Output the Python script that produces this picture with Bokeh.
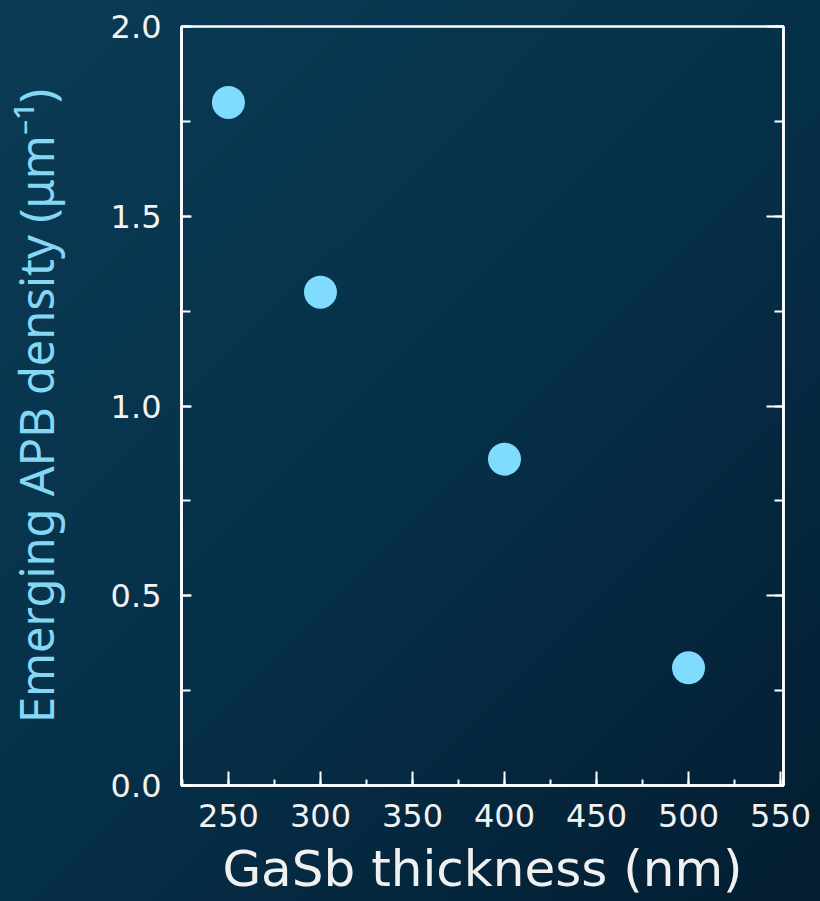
from bokeh.plotting import figure
from bokeh.models import (Range1d, LinearAxis, SingleIntervalTicker,
                          CustomJSTickFormatter, NumeralTickFormatter)
from bokeh.embed import file_html
from bokeh.resources import INLINE

# data
thickness_nm = [250, 300, 400, 500]
apb_density = [1.80, 1.30, 0.86, 0.31]
x_label = "GaSb thickness (nm)"
y_label = "Emerging APB density (μm⁻¹)"

p = figure(width=820, height=901, output_backend="svg", toolbar_location=None,
           x_range=Range1d(224.5, 551.6), y_range=Range1d(0, 2.0),
           min_border_left=180, min_border_right=37, min_border_top=26,
           min_border_bottom=116,
           x_axis_label=x_label, y_axis_label=y_label)

p.styles = {"background": "linear-gradient(135deg, #0b3b55 0%, #063049 50%, #031d31 100%)"}
p.border_fill_alpha = 0
p.background_fill_alpha = 0
p.grid.visible = False
p.outline_line_color = "white"
p.outline_line_width = 2.5
p.outline_line_alpha = 1

xa = p.xaxis[0]
xa.ticker = SingleIntervalTicker(interval=50, num_minor_ticks=2)
xa.major_tick_in = 14
xa.major_tick_out = 0
xa.minor_tick_in = 6
xa.minor_tick_out = 0

ya = p.yaxis[0]
ya.ticker = SingleIntervalTicker(interval=0.5, num_minor_ticks=2)
ya.formatter = NumeralTickFormatter(format="0.0")
ya.major_tick_in = 10
ya.major_tick_out = 0
ya.minor_tick_in = 9
ya.minor_tick_out = 0

for ax in (xa, ya):
    ax.axis_line_color = "white"
    ax.axis_line_width = 2.5
    ax.major_tick_line_color = "white"
    ax.minor_tick_line_color = "white"
    ax.major_tick_line_width = 2
    ax.minor_tick_line_width = 2
    ax.major_label_text_font = "DejaVu Sans"
    ax.major_label_text_font_size = "32px"
    ax.major_label_text_color = "#f2f2f2"
    ax.axis_label_text_font_style = "normal"

xa.major_label_standoff = 18
xa.axis_label_standoff = 10
xa.axis_label_text_font = "DejaVu Sans"
xa.axis_label_text_font_size = "50px"
xa.axis_label_text_color = "#f0f0f0"

ya.major_label_standoff = 20
ya.axis_label_standoff = 40
ya.axis_label_text_font = "Noto Sans"
ya.axis_label_text_font_size = "47px"
ya.axis_label_text_color = "#86d7f3"

ra = LinearAxis(ticker=SingleIntervalTicker(interval=0.5, num_minor_ticks=2),
                formatter=CustomJSTickFormatter(code="return ''"),
                major_tick_in=17, major_tick_out=0, minor_tick_in=9, minor_tick_out=0,
                axis_line_color="white", axis_line_width=2.5,
                major_tick_line_color="white", minor_tick_line_color="white",
                major_tick_line_width=2, minor_tick_line_width=2,
                major_label_standoff=0)
p.add_layout(ra, "right")

p.scatter(thickness_nm, apb_density, size=33, fill_color="#80dcff", line_color=None)

open("out.html", "w").write(file_html(p, INLINE))
